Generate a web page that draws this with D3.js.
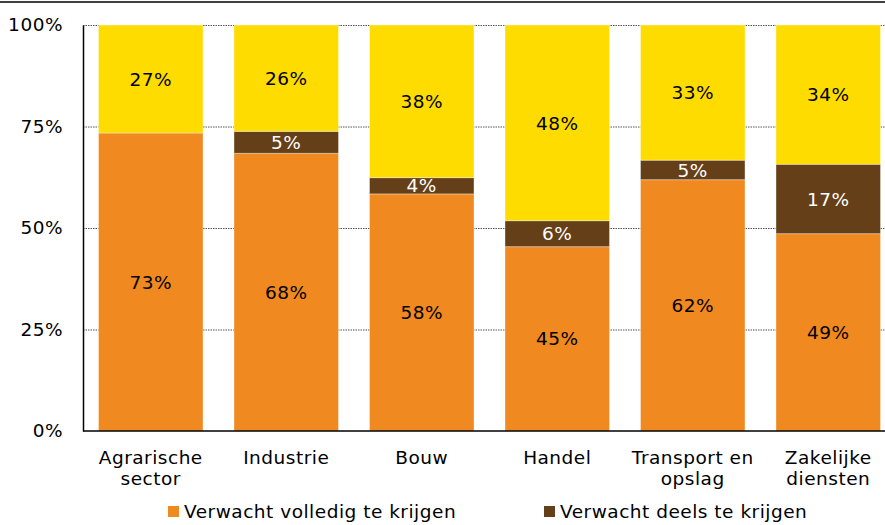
<!DOCTYPE html>
<html>
<head>
<meta charset="utf-8">
<script src="https://cdn.jsdelivr.net/npm/d3@7"></script>
<style>
  body { margin: 0; background: #fff; }
  svg { display: block; font-family: "DejaVu Sans", Verdana, sans-serif; }
  text { letter-spacing: 0.5px; }
</style>
</head>
<body>
<svg id="chart" width="885" height="525"></svg>
<script>
const categories = [["Agrarische", "sector"], ["Industrie"], ["Bouw"], ["Handel"], ["Transport en", "opslag"], ["Zakelijke", "diensten"]];
const volledig = [73.4, 68.4, 58.4, 45.4, 61.9, 48.6];
const deels = [0, 5.4, 4.0, 6.4, 4.8, 17.1];
const rest = [26.6, 26.2, 37.6, 48.2, 33.3, 34.3];
const yTicks = [0, 25, 50, 75, 100];
const legendLabels = ["Verwacht volledig te krijgen", "Verwacht deels te krijgen"];

const colors = ["#F0891F", "#653F17", "#FFDC00"];
const textColors = ["#000", "#fff", "#000"];
const fontSize = 18.5;

const svg = d3.select("#chart");
const margin = { top: 25, left: 83, bottom: 94 };
const height = +svg.attr("height");

const data = categories.map((c, i) => ({ key: i, v0: volledig[i], v1: deels[i], v2: rest[i] }));
const stack = d3.stack().keys(["v0", "v1", "v2"])(data);

const x = d3.scaleBand()
    .domain(d3.range(categories.length))
    .range([margin.left, 896])
    .paddingInner(0.229)
    .paddingOuter(0.1145);

const y = d3.scaleLinear()
    .domain([0, 100])
    .range([height - margin.bottom, margin.top]);

// top rule
svg.append("line")
    .attr("x1", 0).attr("x2", 885)
    .attr("y1", 2).attr("y2", 2)
    .attr("stroke", "#000").attr("stroke-width", 1.5);

// gridlines
svg.append("g")
    .selectAll("line")
    .data(yTicks.filter(t => t > 0))
    .join("line")
    .attr("x1", margin.left).attr("x2", 885)
    .attr("y1", d => y(d) + 0.5).attr("y2", d => y(d) + 0.5)
    .attr("stroke", "#555")
    .attr("stroke-dasharray", "1.5,1");

// bars
const layers = svg.append("g")
    .selectAll("g")
    .data(stack)
    .join("g")
    .attr("fill", (d, i) => colors[i]);

layers.selectAll("rect")
    .data(d => d)
    .join("rect")
    .attr("x", d => x(d.data.key))
    .attr("width", x.bandwidth())
    .attr("y", d => y(d[1]))
    .attr("height", d => y(d[0]) - y(d[1]))
    .attr("stroke", "rgba(255,255,255,0.35)")
    .attr("stroke-width", 1);

// value labels
stack.forEach((layer, li) => {
    svg.append("g")
        .selectAll("text")
        .data(layer.filter(d => d[1] - d[0] > 0.5))
        .join("text")
        .attr("x", d => x(d.data.key) + x.bandwidth() / 2)
        .attr("y", d => (y(d[0]) + y(d[1])) / 2)
        .attr("dy", "0.36em")
        .attr("text-anchor", "middle")
        .attr("font-size", fontSize)
        .attr("fill", textColors[li])
        .text(d => Math.round(d[1] - d[0]) + "%");
});

// y axis
const yAxis = svg.append("g")
    .attr("transform", `translate(${margin.left},0)`)
    .call(d3.axisLeft(y).tickValues(yTicks).tickSize(0).tickPadding(20).tickFormat(d => d + "%"));
yAxis.select(".domain").attr("stroke", "#000").attr("stroke-width", 1.5);
yAxis.selectAll("text").attr("font-size", fontSize).attr("fill", "#000")
    .attr("font-family", "DejaVu Sans, Verdana, sans-serif");

// x axis
svg.append("line")
    .attr("x1", margin.left).attr("x2", 885)
    .attr("y1", y(0)).attr("y2", y(0))
    .attr("stroke", "#000").attr("stroke-width", 1.5);

const xLabels = svg.append("g")
    .selectAll("text")
    .data(categories)
    .join("text")
    .attr("x", (d, i) => x(i) + x.bandwidth() / 2)
    .attr("y", 464)
    .attr("text-anchor", "middle")
    .attr("font-size", fontSize)
    .attr("fill", "#000");

xLabels.selectAll("tspan")
    .data(d => d)
    .join("tspan")
    .attr("x", function () { return d3.select(this.parentNode).attr("x"); })
    .attr("dy", (d, i) => i === 0 ? 0 : 21)
    .text(d => d);

// legend
const legendX = [168, 544];
const legend = svg.append("g")
    .selectAll("g")
    .data(legendLabels)
    .join("g")
    .attr("transform", (d, i) => `translate(${legendX[i]},506)`);

legend.append("rect")
    .attr("width", 11).attr("height", 11)
    .attr("fill", (d, i) => colors[i]);

legend.append("text")
    .attr("x", 16)
    .attr("y", 12)
    .attr("font-size", fontSize)
    .attr("fill", "#000")
    .text(d => d);
</script>
</body>
</html>
